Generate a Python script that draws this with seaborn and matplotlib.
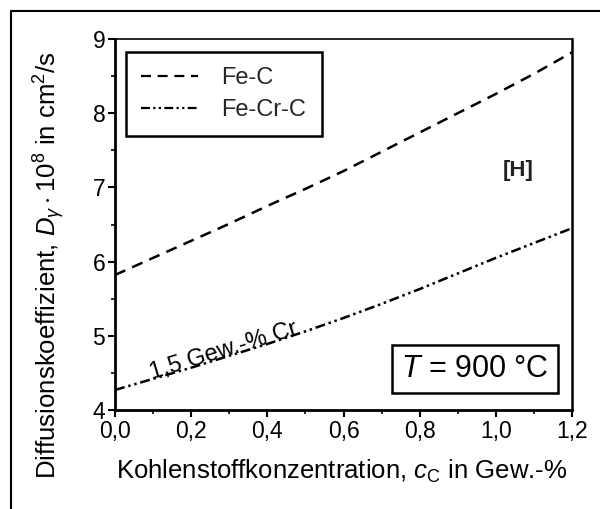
import numpy as np
import pandas as pd
import seaborn as sns
import matplotlib
matplotlib.use("Agg")
import matplotlib.pyplot as plt
from matplotlib.ticker import MultipleLocator, FuncFormatter
from matplotlib.lines import Line2D

c_C = [0.0, 0.1, 0.2, 0.3, 0.4, 0.5, 0.6, 0.7, 0.8, 0.9, 1.0, 1.1, 1.2]
D_FeC = [5.82, 6.05, 6.28, 6.51, 6.75, 6.98, 7.22, 7.48, 7.74, 8.0, 8.26, 8.53, 8.82]
D_FeCrC = [4.27, 4.42, 4.57, 4.73, 4.89, 5.06, 5.24, 5.43, 5.63, 5.84, 6.05, 6.25, 6.45]
series_names = ["Fe-C", "Fe-Cr-C"]

sns.set_theme(style="white")
plt.rcParams['font.family'] = ['Liberation Sans', 'DejaVu Sans']
plt.rcParams['mathtext.fontset'] = 'custom'
plt.rcParams['mathtext.rm'] = 'Liberation Sans'
plt.rcParams['mathtext.it'] = 'Liberation Sans:italic'

df = pd.concat([
    pd.DataFrame({"c": c_C, "D": D_FeC, "s": series_names[0]}),
    pd.DataFrame({"c": c_C, "D": D_FeCrC, "s": series_names[1]}),
])

fig = plt.figure(figsize=(6.0, 5.09), dpi=100)
ax = fig.add_axes([115/600, 1-410/509, (572-115)/600, (410-39)/509])

styles = {series_names[0]: (0, (4.5, 3)), series_names[1]: (0, (4, 1.5, 1, 1.5, 1, 1.5))}
for name in series_names:
    sub = df[df["s"] == name]
    sns.lineplot(data=sub, x="c", y="D", ax=ax, color="black", lw=1.8,
                 linestyle=styles[name], legend=False)

ax.set_xlim(0, 1.2)
ax.set_ylim(4, 9)
ax.xaxis.set_major_locator(MultipleLocator(0.2))
ax.xaxis.set_minor_locator(MultipleLocator(0.1))
ax.yaxis.set_major_locator(MultipleLocator(1))
ax.yaxis.set_minor_locator(MultipleLocator(0.5))
ax.xaxis.set_major_formatter(FuncFormatter(lambda v, p: f"{v:.1f}".replace(".", ",")))
ax.tick_params(axis="both", which="major", direction="out", length=5, width=1.5,
               labelsize=16.5, color="black", labelcolor="black", pad=2,
               bottom=True, left=True, top=False, right=False)
ax.tick_params(axis="both", which="minor", direction="out", length=3, width=1.2,
               color="black", bottom=True, left=True)
for sp in ax.spines.values():
    sp.set_color("black")
ax.spines["left"].set_linewidth(2)
ax.spines["bottom"].set_linewidth(2)
ax.spines["top"].set_linewidth(1.2)
ax.spines["right"].set_linewidth(1.8)

ax.set_xlabel(r"Kohlenstoffkonzentration, $c_{\mathrm{C}}$ in Gew.-%", fontsize=18.5,
              color="black")
ax.set_ylabel(r"Diffusionskoeffizient, $D_{\gamma}\cdot10^{8}$ in cm$^{2}$/s", fontsize=18.5,
              color="black")
ax.xaxis.set_label_coords(0.495, -0.129)
ax.yaxis.set_label_coords(-0.104, 0.39)

handles = [Line2D([0], [0], color="black", lw=1.6, linestyle=styles[n]) for n in series_names]
leg = ax.legend(handles, series_names, loc="upper left", bbox_to_anchor=(0.024, 0.965),
                borderaxespad=0, fontsize=17, frameon=True, fancybox=False, handlelength=2.4,
                borderpad=0.65, labelspacing=0.4, handletextpad=1.0, framealpha=1)
leg.get_frame().set_edgecolor("black")
leg.get_frame().set_linewidth(1.8)

ax.text(1.06, 7.23, "[H]", fontsize=16, fontweight="bold", ha="center", va="center", color="#222222")
ax.text(0.285, 4.8, "1,5 Gew.-% Cr", fontsize=17, rotation=17, ha="center", va="center",
        color="black", rotation_mode="anchor")
ax.text(0.945, 4.55, r"$T$ = 900 °C", fontsize=22, ha="center", va="center", color="black",
        bbox=dict(boxstyle="square,pad=0.3", fc="white", ec="black", lw=1.8))

# outer frame lines (left and top)
fig.add_artist(Line2D([11/600, 11/600], [0, 1-11/509], transform=fig.transFigure, color="black", lw=1.5))
fig.add_artist(Line2D([11/600, 1], [1-11/509, 1-11/509], transform=fig.transFigure, color="black", lw=1.5))

fig.savefig("out.png", dpi=100)
